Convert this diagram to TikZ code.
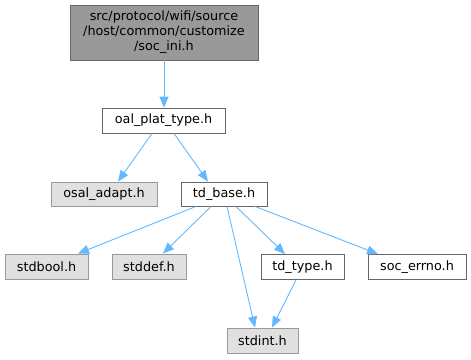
\documentclass[tikz,border=0pt]{standalone}
\usepackage{fontspec}
\setmainfont{DejaVu Sans}
\usetikzlibrary{arrows.meta}
\definecolor{edgeblue}{HTML}{63B8FF}
\definecolor{topfill}{HTML}{999999}
\definecolor{darkborder}{HTML}{666666}
\definecolor{lightfill}{HTML}{E0E0E0}
\definecolor{lightborder}{HTML}{999999}
\tikzset{
  box/.style={draw=darkborder, line width=0.9pt, fill=white, inner sep=0pt, minimum height=25pt, font=\fontsize{12.8}{15}\selectfont, text=black},
  sysbox/.style={box, draw=lightborder, fill=lightfill},
  topbox/.style={box, fill=topfill, align=center},
  dep/.style={draw=edgeblue, line width=0.9pt, -{Triangle[length=11pt,width=9pt]}},
}
\begin{document}
\begin{tikzpicture}[x=1pt,y=-1pt]
\useasboundingbox (0,0) rectangle (471,359);
\node[topbox, minimum width=188pt, minimum height=55pt] (top) at (164,32.5) {src/protocol/wifi/source\\/host/common/customize\\/soc\_ini.h};
\node[box, minimum width=123pt] (oal) at (163.5,120.5) {oal\_plat\_type.h};
\node[sysbox, minimum width=106pt, minimum height=24pt] (osal) at (104,194) {osal\_adapt.h};
\node[box, minimum width=86pt, minimum height=24pt] (tdbase) at (224,194) {td\_base.h};
\node[sysbox, minimum width=83pt] (stdbool) at (46.5,266.5) {stdbool.h};
\node[sysbox, minimum width=74pt] (stddef) at (149,266.5) {stddef.h};
\node[box, minimum width=83pt] (tdtype) at (302.5,267) {td\_type.h};
\node[box, minimum width=98pt] (socerrno) at (417,267) {soc\_errno.h};
\node[sysbox, minimum width=71pt] (stdint) at (262.5,340.5) {stdint.h};

\draw[dep] (top.south) -- (top.south |- oal.north);
\draw[dep] ([xshift=-11.5pt]oal.south) -- ([xshift=14pt]osal.north);
\draw[dep] ([xshift=10.5pt]oal.south) -- ([xshift=-16pt]tdbase.north);
\draw[dep] ([xshift=-28pt]tdbase.south) -- ([xshift=31.5pt]stdbool.north);
\draw[dep] ([xshift=-13pt]tdbase.south) -- ([xshift=14pt]stddef.north);
\draw[dep] ([xshift=3pt]tdbase.south) -- ([xshift=-7.5pt]stdint.north);
\draw[dep] ([xshift=12pt]tdbase.south) -- ([xshift=-17.5pt]tdtype.north);
\draw[dep] ([xshift=31pt]tdbase.south) -- ([xshift=-39pt]socerrno.north);
\draw[dep] ([xshift=-6.5pt]tdtype.south) -- ([xshift=9.5pt]stdint.north);
\end{tikzpicture}
\end{document}
